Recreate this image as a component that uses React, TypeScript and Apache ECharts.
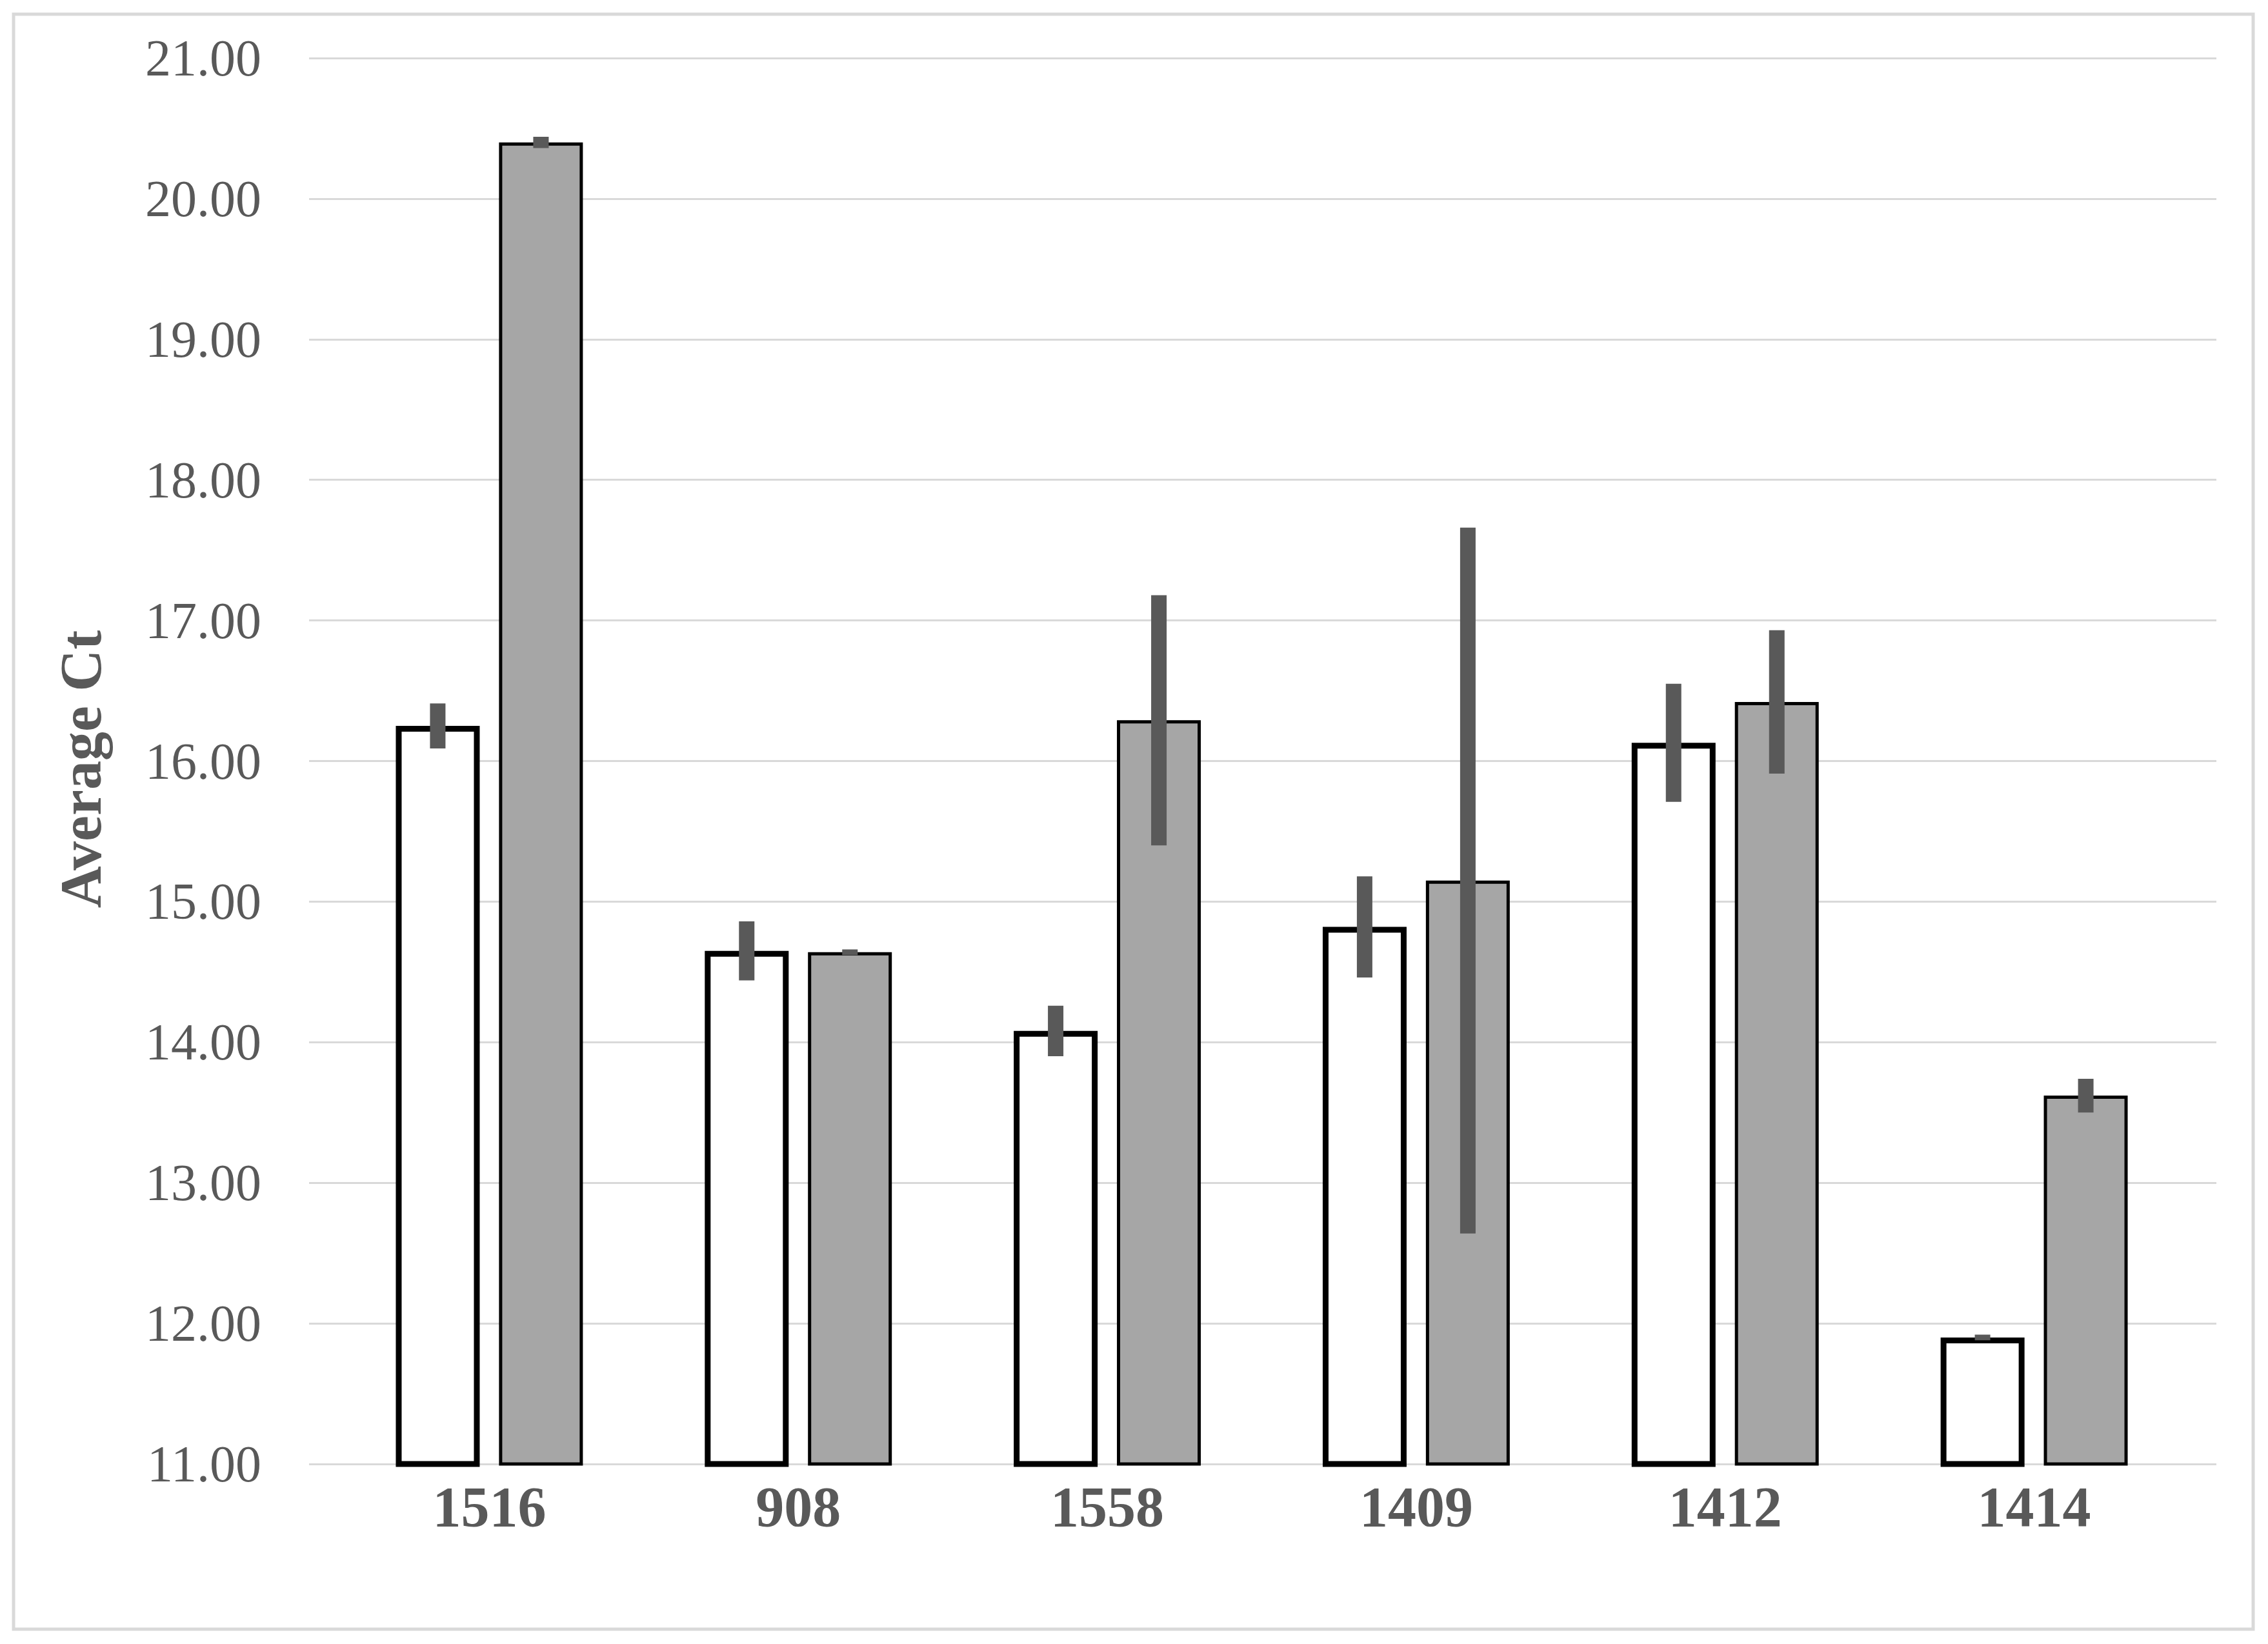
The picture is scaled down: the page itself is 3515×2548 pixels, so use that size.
import React, { useEffect, useRef } from "react";
import * as echarts from "echarts";

const categories = ["1516", "908", "1558", "1409", "1412", "1414"];
const whiteValues = [16.25, 14.65, 14.08, 14.82, 16.13, 11.9];
const whiteErrors = [0.16, 0.21, 0.18, 0.36, 0.42, 0.02];
const greyValues = [20.4, 14.64, 16.29, 15.15, 16.42, 13.62];
const greyErrors = [0.04, 0.02, 0.89, 2.51, 0.51, 0.12];
const yTicks = { min: 11, max: 21, interval: 1 };
const yTitle = "Average Ct";

const FONT = "'Liberation Serif', 'Times New Roman', serif";
const BAR_W = 130;
const OFFSET = 80;

export default function App() {
  const ref = useRef<HTMLDivElement>(null);
  useEffect(() => {
    document.body.style.margin = "0";
    const chart = echarts.init(ref.current!, null, { renderer: "svg" });
    const errSeries = (vals: number[], errs: number[], off: number) => ({
      type: "custom",
      xAxisIndex: 1,
      yAxisIndex: 1,
      z: 10,
      data: vals.map((v, i) => [i, v, errs[i]]),
      encode: { x: 0, y: 1 },
      renderItem: (params: any, api: any) => {
        const idx = api.value(0);
        const v = api.value(1);
        const e = api.value(2);
        const hi = api.coord([idx, v + e]);
        const lo = api.coord([idx, v - e]);
        return {
          type: "line",
          shape: { x1: hi[0] + off, y1: hi[1], x2: lo[0] + off, y2: lo[1] },
          style: { stroke: "#595959", lineWidth: 24, lineCap: "butt" },
        };
      },
    });
    chart.setOption({
      animation: false,
      backgroundColor: "#ffffff",
      grid: [
        { left: 479, right: 80, top: 90, bottom: 279 },
        { left: 519, right: 123, top: 90, bottom: 279 },
      ],
      xAxis: [
        { type: "value", gridIndex: 0, show: false, min: 0, max: 1 },
        {
          type: "category",
          gridIndex: 1,
          data: categories,
          axisLine: { show: false },
          axisTick: { show: false },
          axisLabel: {
            color: "#595959",
            fontFamily: FONT,
            fontWeight: "bold",
            fontSize: 88,
            margin: 22,
          },
        },
      ],
      yAxis: [
        {
          type: "value",
          gridIndex: 0,
          min: yTicks.min,
          max: yTicks.max,
          interval: yTicks.interval,
          axisLine: { show: false },
          axisTick: { show: false },
          splitLine: { lineStyle: { color: "#d9d9d9", width: 3 } },
          axisLabel: {
            color: "#595959",
            fontFamily: FONT,
            fontSize: 80,
            margin: 74,
            formatter: (v: number) => v.toFixed(2),
          },
        },
        {
          type: "value",
          gridIndex: 1,
          min: yTicks.min,
          max: yTicks.max,
          interval: yTicks.interval,
          show: false,
          splitLine: { show: false },
        },
      ],
      series: [
        {
          type: "bar",
          xAxisIndex: 1,
          yAxisIndex: 1,
          data: whiteValues,
          barWidth: BAR_W,
          barGap: "23%",
          itemStyle: { color: "#ffffff", borderColor: "#000000", borderWidth: 9 },
        },
        {
          type: "bar",
          xAxisIndex: 1,
          yAxisIndex: 1,
          data: greyValues,
          barWidth: BAR_W,
          barGap: "23%",
          itemStyle: { color: "#a6a6a6", borderColor: "#000000", borderWidth: 5 },
        },
        errSeries(whiteValues, whiteErrors, -OFFSET),
        errSeries(greyValues, greyErrors, OFFSET),
      ],
      graphic: [
        {
          type: "rect",
          shape: { x: 21, y: 22, width: 3471, height: 2503 },
          style: { fill: "none", stroke: "#d9d9d9", lineWidth: 5 },
          z: -1,
        },
        {
          type: "text",
          x: 125,
          y: 1192,
          rotation: Math.PI / 2,
          style: {
            text: yTitle,
            fill: "#595959",
            font: `bold 90px ${FONT}`,
            align: "center",
            verticalAlign: "middle",
          },
        },
      ],
    });
    return () => chart.dispose();
  }, []);
  return <div ref={ref} style={{ width: 3515, height: 2548 }} />;
}
